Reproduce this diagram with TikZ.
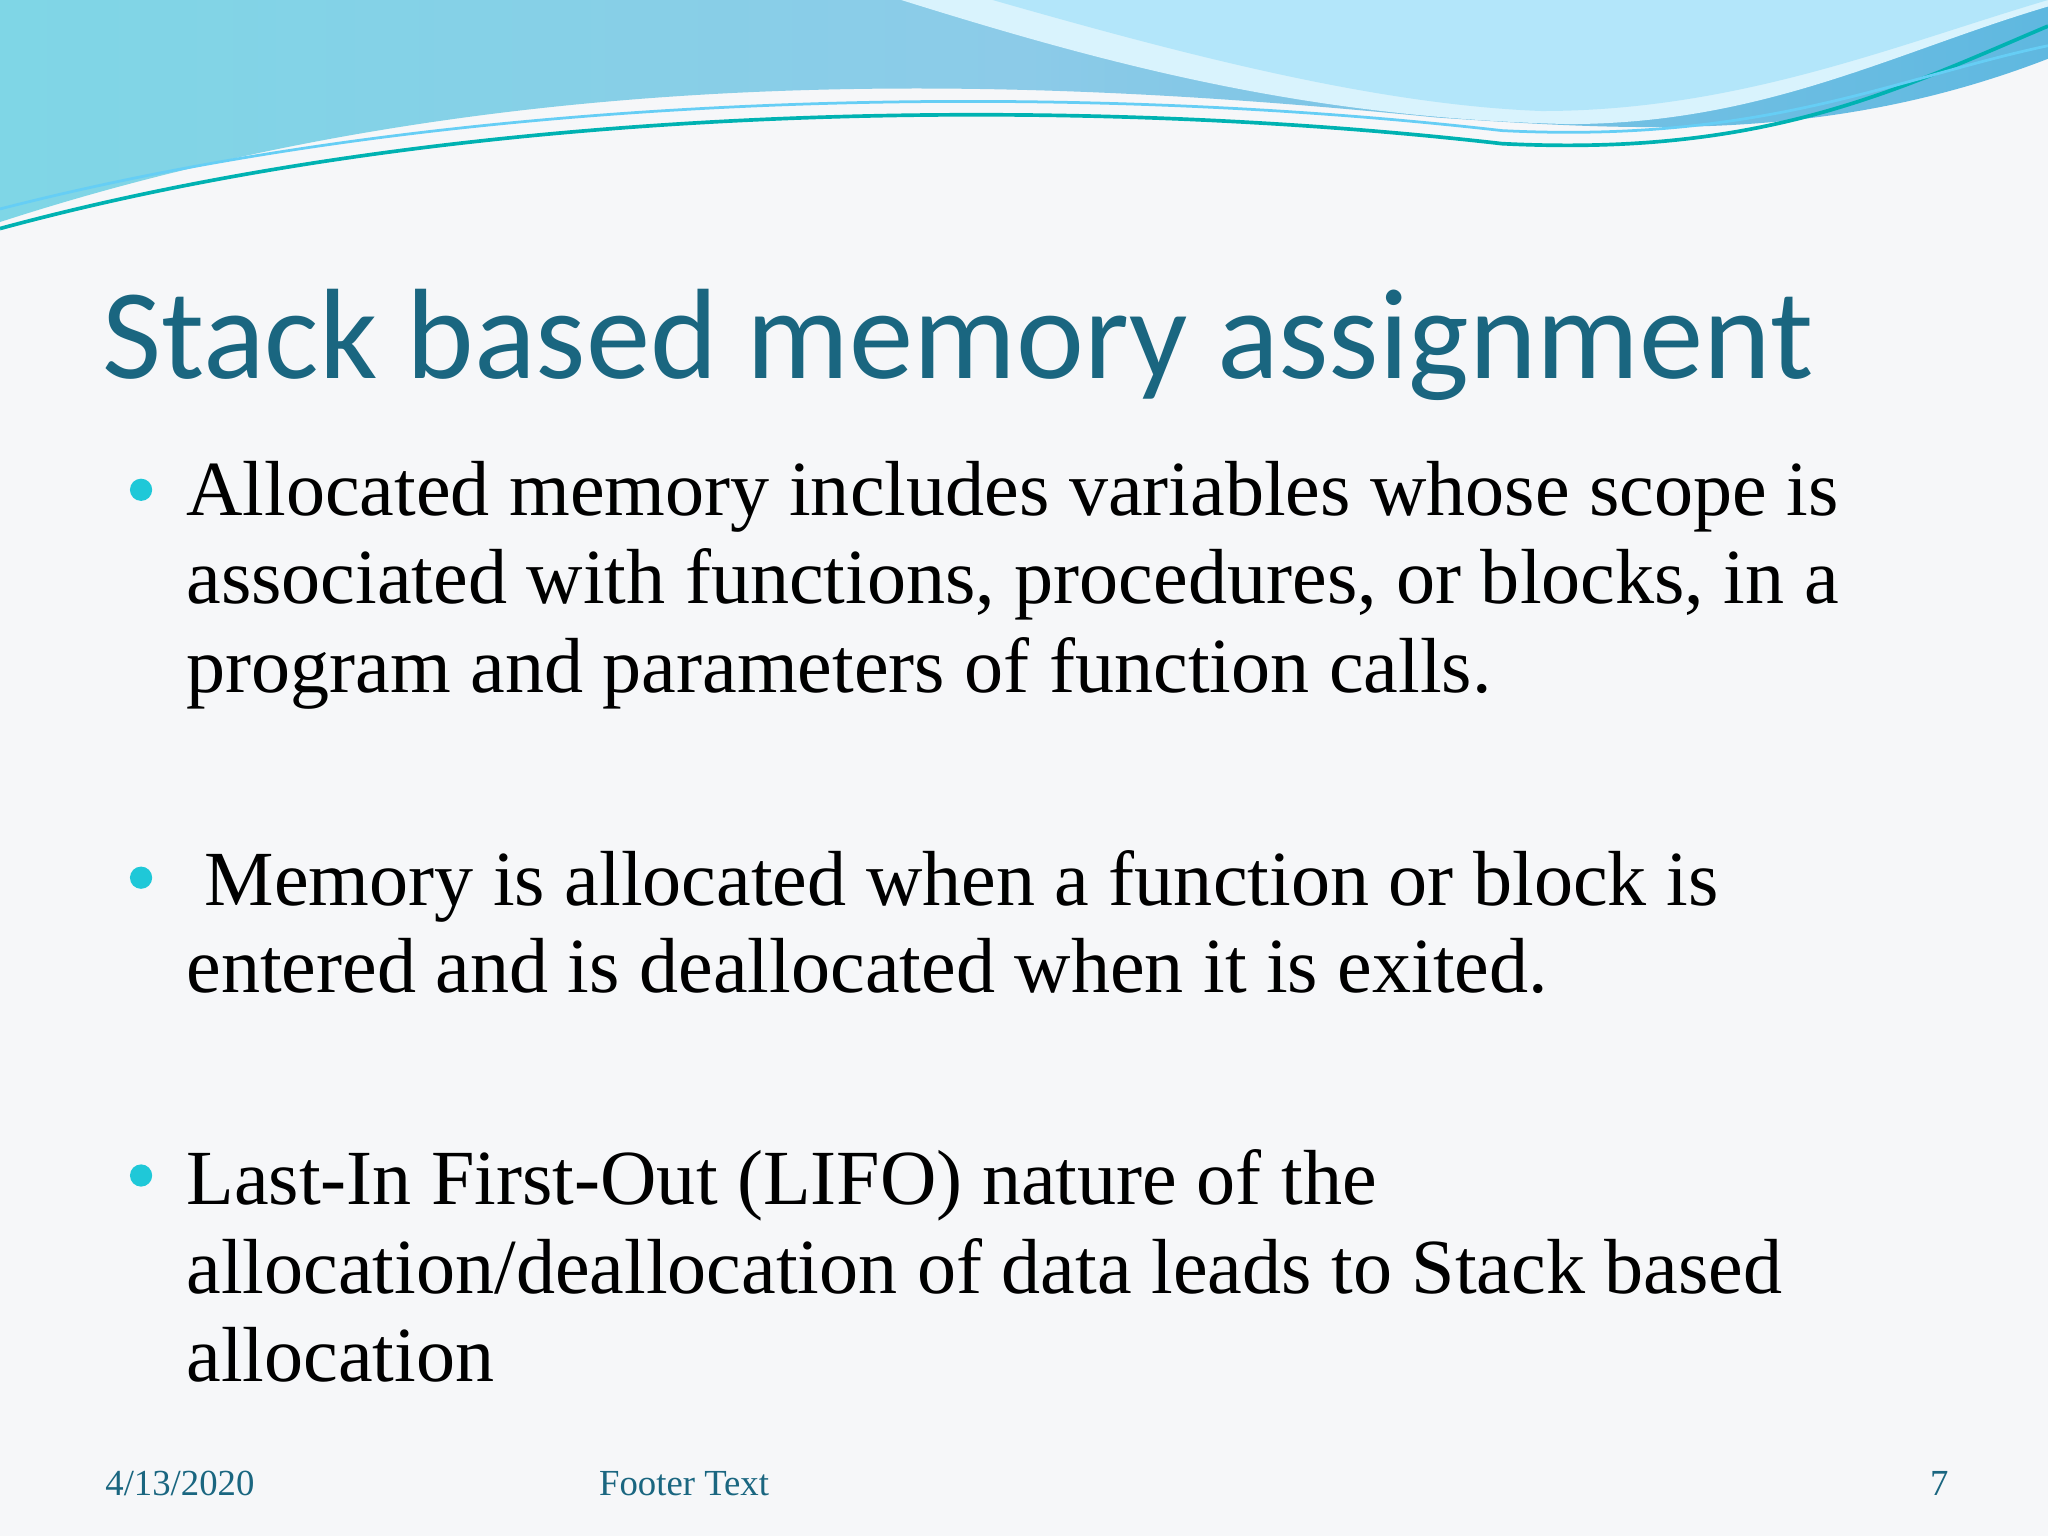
\documentclass[tikz,border=0pt]{standalone}
\usepackage{fontspec}
\setmainfont{Liberation Serif}
\newfontfamily\titlefont{Carlito}
\definecolor{titlec}{HTML}{1A6680}
\definecolor{bul}{HTML}{1FC8D8}
\definecolor{bg}{HTML}{F6F7F9}
\definecolor{foot}{HTML}{1A6680}
\definecolor{waveA}{HTML}{7FD6E6}
\definecolor{waveB}{HTML}{8CCBE8}
\definecolor{waveC}{HTML}{5FB8E0}
\begin{document}
\begin{tikzpicture}[x=0.01cm,y=-0.01cm,
  body/.style={anchor=base west,inner sep=0pt,font=\fontsize{17}{20}\selectfont},
  foottxt/.style={anchor=base west,inner sep=0pt,text=foot,font=\fontsize{8}{10}\selectfont},
  dot/.style={circle,fill=bul,minimum size=0.17cm,inner sep=0pt}]
\fill[bg] (0,0) rectangle (1568,1176);
\useasboundingbox (0,0) rectangle (1568,1176);
% header waves
\shade[left color=waveA, right color=waveC, middle color=waveB]
  (0,0) -- (1568,0) -- (1568,45) .. controls (1400,110) and (1250,100) .. (1100,90)
  .. controls (800,60) and (400,40) .. (0,170) -- cycle;
\fill[white!85!cyan] (690,0) .. controls (850,50) and (1000,90) .. (1200,95)
  .. controls (1350,95) and (1450,40) .. (1568,5) -- (1568,0) -- cycle;
\fill[cyan!30!white] (760,0) .. controls (900,40) and (1050,80) .. (1180,85)
  .. controls (1330,85) and (1450,35) .. (1568,0) -- cycle;
\draw[teal!60!cyan, line width=0.8pt] (0,175) .. controls (350,80) and (800,70) .. (1150,110)
  .. controls (1350,120) and (1450,70) .. (1568,20);
\draw[cyan!60, line width=0.6pt] (0,160) .. controls (350,70) and (800,60) .. (1150,100)
  .. controls (1350,110) and (1450,60) .. (1568,35);
% title
\node[anchor=base west,inner sep=0pt,text=titlec,font=\titlefont\fontsize{28}{33}\selectfont] (title) at (78,290) {Stack based memory assignment};
% bullets
\node[dot] (d1) at (108,375) {};
\node[body] (l1) at (142,395) {Allocated memory includes variables whose scope is};
\node[body] (l2) at (142,462) {associated with functions, procedures, or blocks, in a};
\node[body] (l3) at (142,530) {program and parameters of function calls.};
\node[dot] (d2) at (108,672) {};
\node[body] (l4) at (156,693) {Memory is allocated when a function or block is};
\node[body] (l5) at (142,760) {entered and is deallocated when it is exited.};
\node[dot] (d3) at (108,900) {};
\node[body] (l6) at (142,922) {Last-In First-Out (LIFO) nature of the};
\node[body] (l7) at (142,990) {allocation/deallocation of data leads to Stack based};
\node[body] (l8) at (142,1058) {allocation};
% footer
\node[foottxt] (f1) at (80,1145) {4/13/2020};
\node[foottxt] (f2) at (458,1145) {Footer Text};
\node[foottxt] (f3) at (1477,1145) {7};
\end{tikzpicture}
\end{document}
